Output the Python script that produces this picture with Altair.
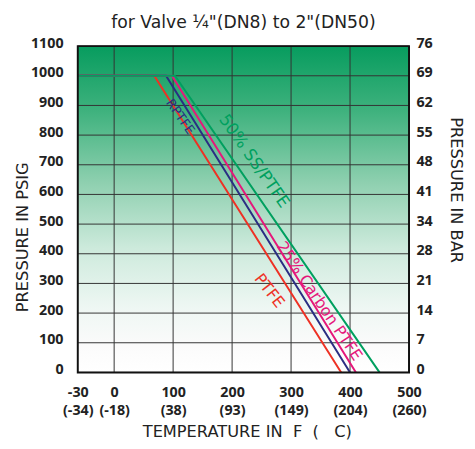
import altair as alt
import pandas as pd

# ---------------- data ----------------
title_text = "for Valve \u00bc\"(DN8) to 2\"(DN50)"
temp_f_ticks = [-30, 0, 100, 200, 300, 400, 500]
temp_c_labels = ["(-34)", "(-18)", "(38)", "(93)", "(149)", "(204)", "(260)"]
grid_temps = [0, 100, 200, 300, 400]
psig_ticks = [0, 100, 200, 300, 400, 500, 600, 700, 800, 900, 1000, 1100]
bar_labels = ["0", "7", "14", "21", "28", "34", "41", "48", "55", "62", "69", "76"]

series_names = ["PTFE", "RPTFE", "25% Carbon PTFE", "50% SS/PTFE"]
series_colors = ["#ee3124", "#2b2e83", "#e5177b", "#00a05f"]
start_temp = -30
max_psig = 1000
knee_temp = [68, 88, 98, 103]
zero_temp = [385, 400, 410, 450]

label_text = ["PTFE", "RPTFE", "25% Carbon PTFE", "50% SS/PTFE"]
label_temp = [263, 112, 348, 237]
label_psig = [275, 862, 240, 712]
label_angle = [52, 55, 56, 55]

# styling (not data)
label_font_sizes = [16, 13, 16, 17]

# ---------------- tables ----------------
rows = []
for i, name in enumerate(series_names):
    rows.append({"series": name, "order": i, "pt": 0, "temp": start_temp, "psig": max_psig})
    rows.append({"series": name, "order": i, "pt": 1, "temp": knee_temp[i], "psig": max_psig})
    rows.append({"series": name, "order": i, "pt": 2, "temp": zero_temp[i], "psig": 0})
lines_df = pd.DataFrame(rows)

labels_df = pd.DataFrame({
    "text": label_text, "temp": label_temp, "psig": label_psig,
    "angle": label_angle, "series": series_names,
})
xgrid_df = pd.DataFrame({"temp": grid_temps})
ygrid_df = pd.DataFrame({"psig": psig_ticks})
one_df = pd.DataFrame({"a": [0]})

W, H = 337, 332
FONT = "Open Sans"
TFONT = "DejaVu Sans"

x_scale = alt.Scale(domain=[-30, 0, 500], range=[0, 37, W], nice=False, zero=False)
y_scale = alt.Scale(domain=[0, 1100], nice=False, zero=False)
color_scale = alt.Scale(domain=series_names, range=series_colors)

x_label_expr = " : ".join(
    f"datum.value == {v} ? ['{v}', '{c}']" for v, c in zip(temp_f_ticks, temp_c_labels)
) + " : ''"
bar_label_expr = " : ".join(
    f"datum.value == {p} ? '{b}'" for p, b in zip(psig_ticks, bar_labels)
) + " : ''"

x_axis = alt.Axis(
    values=temp_f_ticks, labelExpr=x_label_expr,
    title="TEMPERATURE IN\u00a0\u00a0F\u00a0\u00a0(\u00a0\u00a0\u00a0C)",
    grid=False, ticks=False, domain=False, labelPadding=13, labelLineHeight=19,
    titlePadding=7, labelFlush=False, titleX=172,
)
left_axis = alt.Axis(
    orient="left", values=psig_ticks, format="d", title="PRESSURE IN PSIG",
    titleX=-56, titleY=194, titleAlign="center", titleBaseline="middle", titleAngle=-90,
    grid=False, ticks=False, domain=False, labelPadding=15, labelOffset=-3,
)
right_axis = alt.Axis(
    orient="right", values=psig_ticks, labelExpr=bar_label_expr,
    title="PRESSURE IN BAR", titleAngle=90, titleX=47, titleY=146,
    titleAlign="center", titleBaseline="middle",
    grid=False, ticks=False, domain=False, labelPadding=7, labelOffset=-3,
)

gradient = alt.Gradient(
    gradient="linear", x1=0, y1=0, x2=0, y2=1,
    stops=[
        alt.GradientStop(color="#079c5e", offset=0.0),
        alt.GradientStop(color="#3fb27e", offset=0.2),
        alt.GradientStop(color="#8fd0b0", offset=0.42),
        alt.GradientStop(color="#cdeadc", offset=0.62),
        alt.GradientStop(color="#eef7f3", offset=0.8),
        alt.GradientStop(color="#fbfbfb", offset=0.92),
        alt.GradientStop(color="#ffffff", offset=1.0),
    ],
)

background = alt.Chart(one_df).mark_rect(fill=gradient).encode(
    x=alt.value(0), x2=alt.value(W), y=alt.value(0), y2=alt.value(H)
)

xgrid = alt.Chart(xgrid_df).mark_rule(color="#333333", strokeWidth=1).encode(
    x=alt.X("temp:Q", scale=x_scale, axis=x_axis)
)

ygrid = alt.Chart(ygrid_df).mark_rule(color="#333333", strokeWidth=1).encode(
    y=alt.Y("psig:Q", scale=y_scale, axis=right_axis)
)

lines = alt.Chart(lines_df).mark_line(strokeWidth=2).encode(
    x=alt.X("temp:Q", scale=x_scale, axis=x_axis),
    y=alt.Y("psig:Q", scale=y_scale, axis=left_axis),
    color=alt.Color("series:N", scale=color_scale, legend=None),
    order=alt.Order("pt:Q"),
    detail="series:N",
)

text_layers = []
for i, name in enumerate(series_names):
    text_layers.append(
        alt.Chart(labels_df).transform_filter(alt.datum.series == name)
        .mark_text(fontSize=label_font_sizes[i], font=TFONT)
        .encode(
            x=alt.X("temp:Q", scale=x_scale, axis=x_axis),
            y=alt.Y("psig:Q", scale=y_scale, axis=None),
            text="text:N",
            angle=alt.Angle("angle:Q", scale=None),
            color=alt.Color("series:N", scale=color_scale, legend=None),
        )
    )

border = alt.Chart(one_df).mark_rect(filled=False, stroke="#111111", strokeWidth=2).encode(
    x=alt.value(0), x2=alt.value(W), y=alt.value(0), y2=alt.value(H)
)

chart = (
    alt.layer(background, xgrid, ygrid, lines, *text_layers, border)
    .resolve_axis(y="independent")
    .properties(
        width=W, height=H,
        background="white",
        autosize=alt.AutoSizeParams(type="none"),
        padding={"left": 71, "top": 35, "right": 59, "bottom": 66},
        title=alt.TitleParams(title_text, fontSize=17.5, font=TFONT, fontWeight="normal",
                              anchor="middle", dx=0, offset=4, color="#222222"),
    )
    .configure_view(stroke=None)
    .configure_axis(
        labelFont=FONT, labelFontSize=14.5, labelFontWeight="bold", labelColor="#222222",
        titleFont=TFONT, titleFontSize=16.5, titleFontWeight="normal", titleColor="#222222",
    )
)

chart.save("out.html", embed_options={"renderer": "svg", "actions": False})
